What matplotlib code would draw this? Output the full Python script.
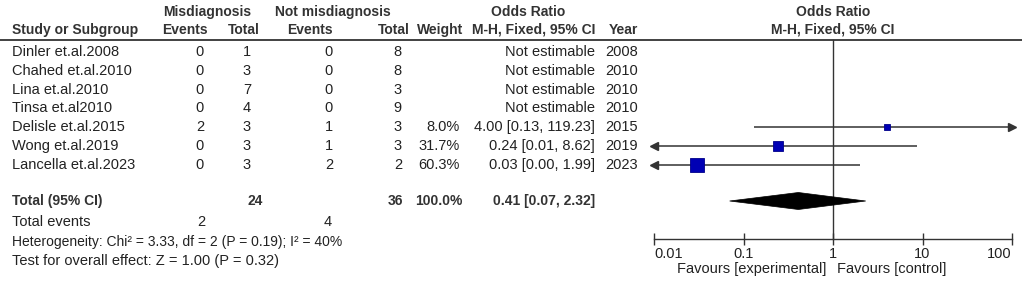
import numpy as np
import matplotlib
matplotlib.use("Agg")
import matplotlib.pyplot as plt
from matplotlib.patches import Polygon

# ---------------- data ----------------
studies = ["Dinler et.al.2008", "Chahed et.al.2010", "Lina et.al.2010", "Tinsa et.al2010",
           "Delisle et.al.2015", "Wong et.al.2019", "Lancella et.al.2023"]
mis_events = [0, 0, 0, 0, 2, 0, 0]
mis_total = [1, 3, 7, 4, 3, 3, 3]
not_events = [0, 0, 0, 0, 1, 1, 2]
not_total = [8, 8, 3, 9, 3, 3, 2]
weights = [None, None, None, None, 8.0, 31.7, 60.3]
or_vals = [None, None, None, None, 4.00, 0.24, 0.03]
ci_lo = [None, None, None, None, 0.13, 0.01, 0.00]
ci_hi = [None, None, None, None, 119.23, 8.62, 1.99]
years = [2008, 2010, 2010, 2010, 2015, 2019, 2023]

tot_mis = 24
tot_not = 36
tot_weight = 100.0
tot_or, tot_lo, tot_hi = 0.41, 0.07, 2.32
tot_ev_mis, tot_ev_not = 2, 4
het_text = "Heterogeneity: Chi\u00b2 = 3.33, df = 2 (P = 0.19); I\u00b2 = 40%"
test_text = "Test for overall effect: Z = 1.00 (P = 0.32)"
xticks = [0.01, 0.1, 1, 10, 100]
xticklabels = ["0.01", "0.1", "1", "10", "100"]

# ---------------- style ----------------
plt.rcParams['font.family'] = ['Liberation Sans', 'DejaVu Sans']
FS = 10.5
FSB = 10
TXT = "#222222"
HDR = "#333333"
LINE = "#333333"
BLUE = "#0000b4"

W, H = 1026, 281
fig = plt.figure(figsize=(W / 100, H / 100), dpi=100)
fig.patch.set_facecolor("white")

axt = fig.add_axes([0, 0, 1, 1])
axt.set_xlim(0, W)
axt.set_ylim(H, 0)
axt.axis("off")

def t(x, y, s, ha="left", bold=False, color=None, fs=None):
    axt.text(x, y, s, ha=ha, va="center", fontsize=fs or (FSB if bold else FS),
             fontweight="bold" if bold else "normal",
             color=color or (HDR if bold else TXT))

# headers
t(207, 12, "Misdiagnosis", ha="center", bold=True)
t(333, 12, "Not misdiagnosis", ha="center", bold=True)
t(528, 12, "Odds Ratio", ha="center", bold=True)
t(833, 12, "Odds Ratio", ha="center", bold=True)
t(12, 30, "Study or Subgroup", bold=True)
t(208, 30, "Events", ha="right", bold=True)
t(260, 30, "Total", ha="right", bold=True)
t(333, 30, "Events", ha="right", bold=True)
t(410, 30, "Total", ha="right", bold=True)
t(463, 30, "Weight", ha="right", bold=True)
t(595, 30, "M-H, Fixed, 95% CI", ha="right", bold=True)
t(638, 30, "Year", ha="right", bold=True)
t(833, 30, "M-H, Fixed, 95% CI", ha="center", bold=True)

axt.plot([0, 1022], [40, 40], color=LINE, lw=1.3, solid_capstyle="butt")

row_y = [52 + i * 18.8 for i in range(len(studies))]
for i, y in enumerate(row_y):
    t(12, y, studies[i])
    t(204, y, str(mis_events[i]), ha="right")
    t(251, y, str(mis_total[i]), ha="right")
    t(333, y, str(not_events[i]), ha="right")
    t(402, y, str(not_total[i]), ha="right")
    if weights[i] is not None:
        t(460, y, f"{weights[i]:.1f}%", ha="right")
        t(595, y, f"{or_vals[i]:.2f} [{ci_lo[i]:.2f}, {ci_hi[i]:.2f}]", ha="right")
    else:
        t(595, y, "Not estimable", ha="right")
    t(638, y, str(years[i]), ha="right")

y_tot = 201
t(12, y_tot, "Total (95% CI)", bold=True)
t(263, y_tot, str(tot_mis), ha="right", bold=True)
t(403, y_tot, str(tot_not), ha="right", bold=True)
t(463, y_tot, f"{tot_weight:.1f}%", ha="right", bold=True)
t(595, y_tot, f"{tot_or:.2f} [{tot_lo:.2f}, {tot_hi:.2f}]", ha="right", bold=True)
t(12, 222, "Total events")
t(205, 222, str(tot_ev_mis), ha="right")
t(332, 222, str(tot_ev_not), ha="right")
t(12, 242, het_text, fs=10)
t(12, 261, test_text)

# ---------------- forest axes ----------------
x0, x1, ytop, ybot = 654, 1012, 40, 239
ax = fig.add_axes([x0 / W, (H - ybot) / H, (x1 - x0) / W, (ybot - ytop) / H])
ax.set_xscale("log")
ax.set_xlim(0.01, 100)
ax.set_ylim(ybot, ytop)
ax.patch.set_alpha(0)
for s in ("top", "left", "right"):
    ax.spines[s].set_visible(False)
ax.spines["bottom"].set_color(LINE)
ax.spines["bottom"].set_linewidth(1.0)
ax.set_yticks([])
ax.set_xticks(xticks)
ax.set_xticklabels(xticklabels)
ax.xaxis.set_minor_locator(matplotlib.ticker.NullLocator())
ax.tick_params(axis="x", direction="inout", length=8, width=1.0, color=LINE,
               labelsize=FS, labelcolor=TXT, pad=2)
labs = ax.get_xticklabels()
labs[0].set_ha("left")
labs[-1].set_ha("right")

ax.axvline(1, color=LINE, lw=1.0, clip_on=False)

xmin, xmax = 0.01, 100
for i, y in enumerate(row_y):
    if or_vals[i] is None:
        continue
    lo, hi = ci_lo[i], ci_hi[i]
    lo_c = max(lo, xmin)
    hi_c = min(hi, xmax)
    ax.plot([lo_c, hi_c], [y, y], color=LINE, lw=1.1, solid_capstyle="butt")
    if hi > xmax:
        ax.plot(xmax, y, marker=">", ms=6, color=LINE, clip_on=False)
    if lo <= xmin:
        ax.plot(xmin, y, marker="<", ms=6, color=LINE, clip_on=False)
    ax.plot(or_vals[i], y, marker="s", ms=1.3 * np.sqrt(weights[i]),
            color=BLUE, mec="#00008a", mew=0.6, zorder=5)

dh = 8.5
ax.add_patch(Polygon([(tot_lo, y_tot), (tot_or, y_tot - dh), (tot_hi, y_tot), (tot_or, y_tot + dh)],
                     closed=True, facecolor="black", edgecolor="black", lw=0.5, zorder=5))

axt.text(752, 269, "Favours [experimental]", ha="center", va="center", fontsize=FS, color=TXT)
axt.text(892, 269, "Favours [control]", ha="center", va="center", fontsize=FS, color=TXT)

fig.savefig("out.png", dpi=100, facecolor="white")
